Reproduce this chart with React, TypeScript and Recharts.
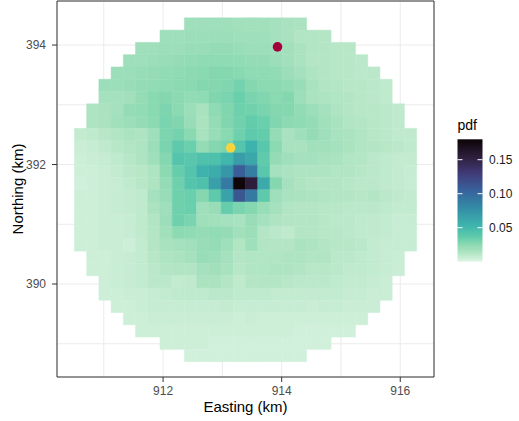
import { ScatterChart, Scatter, XAxis, YAxis, CartesianGrid, ReferenceArea } from "recharts"

const FONT = '"Liberation Sans", Arial, Helvetica, sans-serif'

// axis ranges and breaks (km); odd values only carry a minor grid line
const eastingRange: [number, number] = [910.211, 916.569]
const northingRange: [number, number] = [388.444, 394.737]
const eastingTicks = [911, 912, 913, 914, 915, 916]
const northingTicks = [389, 390, 391, 392, 393, 394]

// raster of the density: 28 x 28 cells, clipped to a disc
const gridWest = 910.505
const gridNorth = 394.455
const cellWidth = 0.2061
const cellHeight = 0.2055

// first column inside the disc, per row (north to south)
const rowStart = [9, 7, 5, 4, 3, 2, 2, 1, 1, 0, 0, 0, 0, 0, 0, 0, 0, 0, 0, 1, 1, 2, 2, 3, 4, 5, 7, 9]

// pdf x 1000, per row, from the first column inside the disc
const pdfRows: number[][] = [
  [19, 19, 19, 19, 18, 18, 18, 17, 16, 15],
  [19, 19, 20, 20, 20, 20, 19, 19, 19, 17, 16, 13, 13, 12],
  [19, 19, 20, 20, 21, 21, 22, 22, 21, 20, 20, 19, 18, 15, 13, 12, 11, 11],
  [19, 19, 20, 21, 22, 23, 24, 24, 24, 23, 22, 22, 20, 18, 15, 12, 12, 11, 11, 10],
  [20, 20, 21, 22, 23, 24, 25, 26, 27, 27, 26, 24, 24, 23, 20, 17, 14, 12, 11, 11, 10, 10],
  [20, 20, 21, 22, 23, 24, 25, 26, 27, 27, 28, 31, 27, 25, 25, 23, 21, 16, 13, 12, 11, 11, 10, 9],
  [17, 17, 18, 22, 26, 27, 25, 23, 24, 28, 30, 34, 30, 28, 26, 27, 20, 15, 14, 13, 12, 11, 10, 9],
  [14, 15, 17, 22, 23, 26, 29, 25, 20, 16, 24, 28, 33, 32, 30, 27, 27, 23, 20, 17, 14, 12, 11, 11, 10, 9],
  [14, 15, 18, 20, 22, 25, 30, 28, 21, 15, 22, 28, 32, 36, 34, 28, 25, 24, 22, 18, 16, 13, 12, 11, 10, 9],
  [8, 9, 11, 13, 15, 14, 19, 29, 31, 26, 16, 21, 26, 33, 38, 36, 22, 16, 19, 22, 19, 16, 15, 13, 11, 10, 9, 9],
  [6, 7, 9, 11, 13, 14, 20, 30, 38, 34, 22, 27, 30, 42, 55, 40, 25, 16, 16, 18, 18, 17, 15, 13, 12, 11, 10, 9],
  [5, 6, 7, 9, 11, 14, 19, 27, 42, 40, 44, 45, 52, 68, 62, 37, 22, 19, 17, 17, 16, 15, 13, 12, 10, 9, 8, 8],
  [5, 5, 6, 8, 10, 11, 14, 25, 35, 42, 55, 58, 72, 108, 88, 40, 17, 15, 14, 14, 14, 13, 13, 11, 10, 9, 8, 7],
  [4, 5, 6, 7, 9, 11, 14, 22, 33, 42, 45, 67, 90, 178, 155, 60, 27, 17, 14, 12, 12, 12, 11, 10, 10, 9, 8, 7],
  [5, 5, 6, 7, 8, 9, 17, 21, 33, 34, 27, 38, 65, 112, 90, 38, 19, 16, 15, 14, 13, 12, 12, 11, 12, 10, 9, 8],
  [5, 5, 6, 7, 8, 9, 15, 19, 33, 34, 19, 21, 35, 30, 27, 21, 17, 13, 12, 12, 11, 11, 10, 10, 10, 9, 8, 8],
  [5, 5, 6, 6, 7, 9, 13, 20, 33, 30, 19, 18, 17, 16, 21, 17, 14, 12, 12, 12, 11, 10, 10, 9, 9, 8, 7, 7],
  [5, 5, 6, 6, 7, 9, 12, 18, 25, 24, 22, 23, 22, 18, 20, 12, 10, 9, 12, 12, 11, 11, 10, 9, 9, 8, 7, 7],
  [5, 5, 6, 6, 5, 8, 12, 16, 17, 18, 21, 22, 19, 13, 19, 13, 12, 12, 15, 14, 12, 11, 11, 10, 8, 7, 7, 7],
  [5, 5, 6, 7, 8, 11, 14, 15, 17, 21, 20, 17, 12, 13, 13, 13, 14, 14, 13, 13, 10, 10, 9, 8, 7, 6],
  [5, 5, 6, 7, 8, 10, 12, 13, 13, 17, 18, 16, 11, 13, 13, 14, 14, 13, 11, 11, 10, 9, 9, 8, 7, 6],
  [5, 6, 7, 8, 10, 10, 8, 9, 15, 15, 12, 9, 12, 12, 12, 11, 10, 10, 10, 9, 8, 8, 7, 6],
  [5, 5, 6, 6, 7, 8, 9, 9, 9, 10, 10, 9, 9, 9, 8, 8, 8, 8, 8, 8, 7, 7, 6, 6],
  [5, 5, 6, 7, 7, 7, 7, 7, 7, 8, 7, 7, 7, 7, 7, 7, 6, 7, 7, 6, 6, 6],
  [5, 5, 6, 6, 6, 6, 6, 6, 6, 5, 6, 5, 5, 5, 5, 5, 5, 5, 5, 5],
  [5, 5, 5, 5, 5, 5, 5, 5, 5, 5, 5, 5, 5, 4, 4, 4, 4, 4],
  [5, 5, 5, 5, 4, 4, 4, 4, 4, 4, 4, 4, 4, 4],
  [4, 4, 4, 4, 4, 4, 4, 4, 4, 4],
]

// the two marked locations
const sourceSite = [{ x: 913.93, y: 393.97 }]
const estimateSite = [{ x: 913.14, y: 392.28 }]

// colour scale
const pdfMax = 0.18
const legendTicks = [0.05, 0.1, 0.15]
// mako, reversed (low -> light mint, high -> black): [position, colour]
const makoStops: [number, string][] = [
  [0, "#DEF5E5"],
  [0.07, "#B2E5C4"],
  [0.143, "#8AD9B1"],
  [0.2, "#62CCAB"],
  [0.286, "#40B7AD"],
  [0.429, "#348FA7"],
  [0.571, "#37659E"],
  [0.714, "#413D7B"],
  [0.857, "#2E1E3C"],
  [1, "#0B0405"],
]

function hexToRgb(h: string) {
  const n = parseInt(h.slice(1), 16)
  return [(n >> 16) & 255, (n >> 8) & 255, n & 255]
}

function pdfColor(v: number) {
  const t = Math.min(1, Math.max(0, v / pdfMax))
  let i = 0
  while (i < makoStops.length - 2 && t > makoStops[i + 1][0]) i++
  const [p0, c0] = makoStops[i]
  const [p1, c1] = makoStops[i + 1]
  const f = (t - p0) / (p1 - p0)
  const a = hexToRgb(c0)
  const b = hexToRgb(c1)
  const c = a.map((x, k) => Math.round(x + (b[k] - x) * f))
  return `rgb(${c[0]},${c[1]},${c[2]})`
}

const cells = pdfRows.flatMap((row, r) =>
  row.map((v, k) => {
    const c = rowStart[r] + k
    return {
      x1: gridWest + c * cellWidth,
      x2: gridWest + (c + 1) * cellWidth,
      y1: gridNorth - (r + 1) * cellHeight,
      y2: gridNorth - r * cellHeight,
      color: pdfColor(v / 1000),
    }
  })
)

const TICK_SIZE = 5
const isMajor = (v: number) => v % 2 === 0

function XTick(props: any) {
  const { x, y, payload } = props
  if (!isMajor(payload.value)) return <g />
  const top = y - 4 - TICK_SIZE
  return (
    <g>
      <line x1={x} x2={x} y1={top} y2={top + TICK_SIZE} stroke="#333333" strokeWidth={1} />
      <text x={x} y={y} dy="0.71em" textAnchor="middle" fontSize={12} fill="#4D4D4D" fontFamily={FONT}>
        {payload.value}
      </text>
    </g>
  )
}

function YTick(props: any) {
  const { x, y, payload } = props
  if (!isMajor(payload.value)) return <g />
  const left = x + 6
  return (
    <g>
      <line x1={left} x2={left + TICK_SIZE} y1={y} y2={y} stroke="#333333" strokeWidth={1} />
      <text x={x} y={y} dy="0.355em" textAnchor="end" fontSize={12} fill="#4D4D4D" fontFamily={FONT}>
        {payload.value}
      </text>
    </g>
  )
}

function ColourBar() {
  const left = 457.5
  const top = 139.3
  const w = 25
  const h = 122.4
  const yOf = (v: number) => top + h - (v / pdfMax) * h
  return (
    <svg width={519} height={421} style={{ position: "absolute", left: 0, top: 0, pointerEvents: "none" }}>
      <defs>
        <linearGradient id="pdfGrad" x1="0" y1="1" x2="0" y2="0">
          {makoStops.map(([p, c], i) => (
            <stop key={i} offset={p} stopColor={c} />
          ))}
        </linearGradient>
      </defs>
      <text x={left} y={130} fontSize={14} fontFamily={FONT} fill="#000">
        pdf
      </text>
      <rect x={left} y={top} width={w} height={h} fill="url(#pdfGrad)" />
      {legendTicks.map((v) => (
        <g key={v}>
          <line x1={left} x2={left + 5} y1={yOf(v)} y2={yOf(v)} stroke="#fff" strokeWidth={1} />
          <line x1={left + w - 5} x2={left + w} y1={yOf(v)} y2={yOf(v)} stroke="#fff" strokeWidth={1} />
          <text x={489} y={yOf(v)} dy="0.355em" fontSize={12} fontFamily={FONT} fill="#1A1A1A">
            {v.toFixed(2)}
          </text>
        </g>
      ))}
    </svg>
  )
}

export default function App() {
  return (
    <div style={{ position: "absolute", left: 0, top: 0, width: 519, height: 421, background: "#fff" }}>
      <ScatterChart width={519} height={421} margin={{ top: 1, right: 85, bottom: 0, left: 0 }} style={{ fontFamily: FONT }}>
        <CartesianGrid stroke="#EBEBEB" strokeWidth={1} />
        <XAxis
          type="number"
          dataKey="x"
          domain={eastingRange}
          ticks={eastingTicks}
          interval={0}
          allowDataOverflow
          height={44}
          axisLine={false}
          tickLine={false}
          tickSize={TICK_SIZE}
          tickMargin={4}
          tick={XTick}
          label={{ value: "Easting (km)", position: "insideBottom", offset: 9, fontSize: 15, fill: "#000" }}
        />
        <YAxis
          type="number"
          dataKey="y"
          domain={northingRange}
          ticks={northingTicks}
          interval={0}
          allowDataOverflow
          width={57}
          axisLine={false}
          tickLine={false}
          tickSize={TICK_SIZE}
          tickMargin={6}
          tick={YTick}
          label={{
            value: "Northing (km)",
            angle: -90,
            position: "insideLeft",
            offset: 18,
            fontSize: 15,
            fill: "#000",
            style: { textAnchor: "middle" },
          }}
        />
        {cells.map((c, i) => (
          <ReferenceArea
            key={i}
            x1={c.x1}
            x2={c.x2}
            y1={c.y1}
            y2={c.y2}
            fill={c.color}
            fillOpacity={1}
            stroke={c.color}
            strokeWidth={0.5}
          />
        ))}
        <ReferenceArea
          x1={eastingRange[0]}
          x2={eastingRange[1]}
          y1={northingRange[0]}
          y2={northingRange[1]}
          fill="none"
          stroke="#333333"
          strokeWidth={1}
        />
        <Scatter
          data={sourceSite}
          isAnimationActive={false}
          shape={(p: any) => <circle cx={p.cx} cy={p.cy} r={4.8} fill="#A3003A" />}
        />
        <Scatter
          data={estimateSite}
          isAnimationActive={false}
          shape={(p: any) => <circle cx={p.cx} cy={p.cy} r={4.8} fill="#F7D33F" />}
        />
      </ScatterChart>
      <ColourBar />
    </div>
  )
}
